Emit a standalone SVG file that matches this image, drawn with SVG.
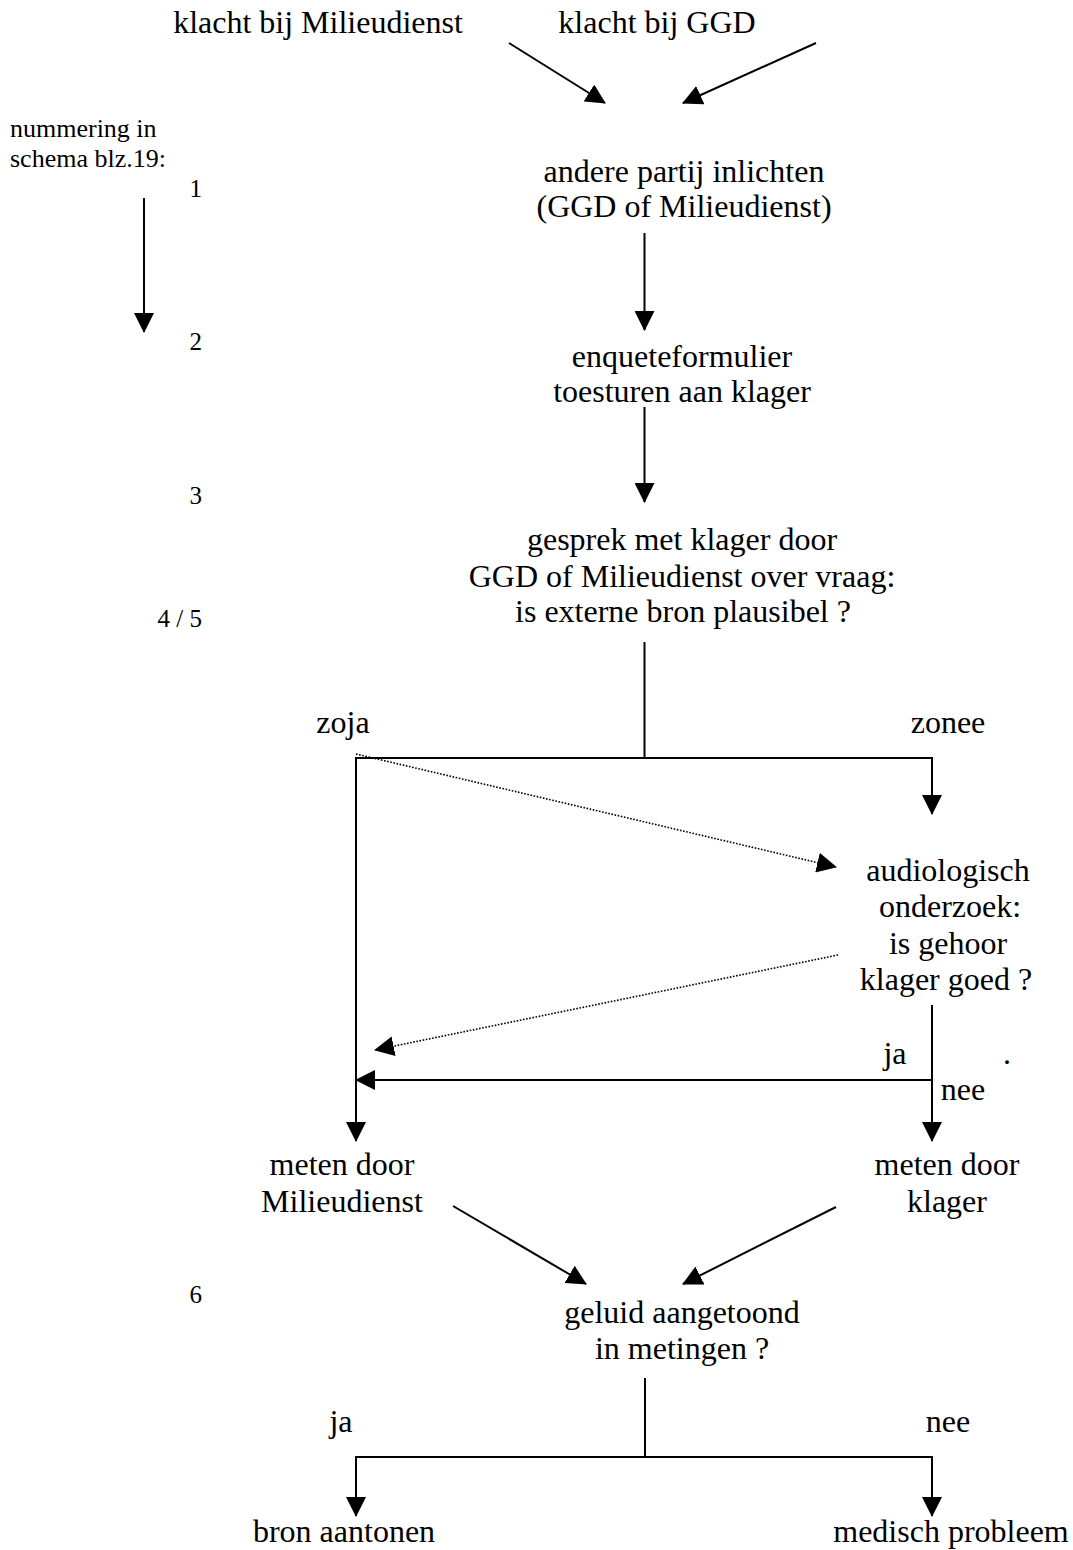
<svg xmlns="http://www.w3.org/2000/svg" width="1073" height="1550" viewBox="0 0 1073 1550">
<style>
  text { font-family: "Liberation Serif", "Times New Roman", serif; fill: #000; }
  .t { font-size: 32px; text-anchor: middle; }
  .s { font-size: 26px; }
  .n { font-size: 25px; text-anchor: end; }
  .c line, .c polyline { stroke: #000; stroke-width: 2; fill: none; }
  .c .dot { stroke-width: 1.6; stroke-dasharray: 1.6 1.6; }
  .arr { marker-end: url(#ah); }
</style>
<defs>
  <marker id="ah" markerUnits="userSpaceOnUse" markerWidth="20" markerHeight="20" refX="19" refY="10" orient="auto" viewBox="0 0 20 20">
    <path d="M0,0 L20,10 L0,20 z" fill="#000"/>
  </marker>
</defs>
<rect width="1073" height="1550" fill="#fff"/>

<g id="legend">
  <text class="s" x="10" y="137">nummering in</text>
  <text class="s" x="10" y="167">schema blz.19:</text>
  <text class="n" x="202" y="197">1</text>
  <text class="n" x="202" y="350">2</text>
  <text class="n" x="202" y="504">3</text>
  <text class="n" x="202" y="627">4 / 5</text>
  <text class="n" x="202" y="1303">6</text>
</g>

<g id="n-klacht-milieudienst"><text class="t" x="318" y="33">klacht bij Milieudienst</text></g>
<g id="n-klacht-ggd"><text class="t" x="657" y="33">klacht bij GGD</text></g>
<g id="n-inlichten">
  <text class="t" x="684" y="182">andere partij inlichten</text>
  <text class="t" x="684" y="217">(GGD of Milieudienst)</text>
</g>
<g id="n-enquete">
  <text class="t" x="682" y="367">enqueteformulier</text>
  <text class="t" x="682" y="402">toesturen aan klager</text>
</g>
<g id="n-gesprek">
  <text class="t" x="682" y="550">gesprek met klager door</text>
  <text class="t" x="682" y="587">GGD of Milieudienst over vraag:</text>
  <text class="t" x="683" y="622">is externe bron plausibel ?</text>
</g>
<g id="n-audio">
  <text class="t" x="948" y="881">audiologisch</text>
  <text class="t" x="950" y="917">onderzoek:</text>
  <text class="t" x="948" y="954">is gehoor</text>
  <text class="t" x="946" y="990">klager goed ?</text>
</g>
<g id="n-meten-milieudienst">
  <text class="t" x="342" y="1175">meten door</text>
  <text class="t" x="342" y="1212">Milieudienst</text>
</g>
<g id="n-meten-klager">
  <text class="t" x="947" y="1175">meten door</text>
  <text class="t" x="947" y="1212">klager</text>
</g>
<g id="n-geluid">
  <text class="t" x="682" y="1323">geluid aangetoond</text>
  <text class="t" x="682" y="1359">in metingen ?</text>
</g>
<g id="n-bron"><text class="t" x="344" y="1542">bron aantonen</text></g>
<g id="n-medisch"><text class="t" x="951" y="1542">medisch probleem</text></g>

<g id="labels">
  <text class="t" x="343" y="733">zoja</text>
  <text class="t" x="948" y="733">zonee</text>
  <text class="t" x="895" y="1064">ja</text>
  <text class="t" x="1007" y="1064">.</text>
  <text class="t" x="963" y="1100">nee</text>
  <text class="t" x="341" y="1432">ja</text>
  <text class="t" x="948" y="1432">nee</text>
</g>

<g id="connectors" class="c">
  <line class="arr" x1="144" y1="198" x2="144" y2="332"/>
  <line class="arr" x1="509" y1="43" x2="605" y2="103"/>
  <line class="arr" x1="816" y1="43" x2="683" y2="103"/>
  <line class="arr" x1="644.5" y1="233" x2="644.5" y2="330"/>
  <line class="arr" x1="644.5" y1="407" x2="644.5" y2="502"/>
  <line x1="644.5" y1="642" x2="644.5" y2="758"/>
  <line x1="355" y1="758" x2="933" y2="758"/>
  <line class="arr" x1="932" y1="757" x2="932" y2="814"/>
  <line class="arr" x1="356" y1="757" x2="356" y2="1141"/>
  <line class="dot arr" x1="356" y1="754" x2="836" y2="867"/>
  <line class="dot arr" x1="838" y1="955" x2="375" y2="1050"/>
  <line class="arr" x1="932" y1="1005" x2="932" y2="1141"/>
  <line class="arr" x1="933" y1="1080" x2="356" y2="1080"/>
  <line class="arr" x1="453" y1="1206" x2="586" y2="1284"/>
  <line class="arr" x1="836" y1="1207" x2="683" y2="1284"/>
  <line x1="645" y1="1378" x2="645" y2="1457"/>
  <line x1="355" y1="1457" x2="933" y2="1457"/>
  <line class="arr" x1="356" y1="1456" x2="356" y2="1516"/>
  <line class="arr" x1="932" y1="1456" x2="932" y2="1516"/>
</g>
</svg>
